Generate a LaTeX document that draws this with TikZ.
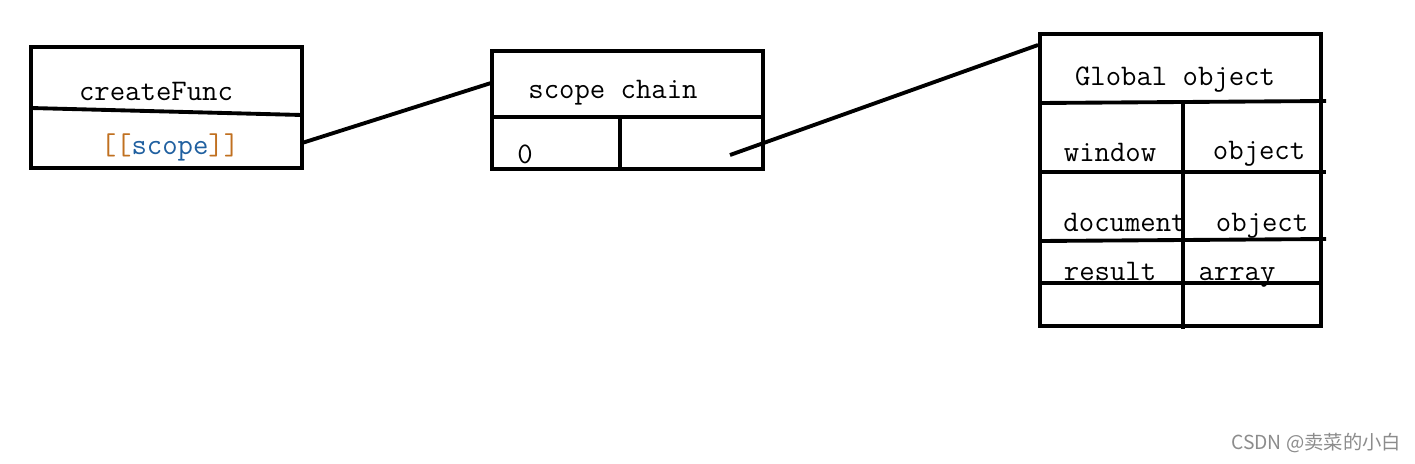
\documentclass[tikz,border=0pt]{standalone}
\usepackage{fontspec}
\newfontfamily\cjk{Noto Sans CJK SC}
\begin{document}
\begin{tikzpicture}[x=0.02cm,y=-0.02cm,line width=2.2pt,
  txt/.style={font=\ttfamily\fontsize{17}{19}\selectfont,inner sep=0pt,anchor=base}]
\useasboundingbox (0,0) rectangle (1415,463);
% box 1
\draw (31,47) rectangle (302,168);
\draw (31,108) -- (302,115);
\node[txt] (cf) at (156,100) {createFunc};
\node[txt] (sc) at (170,154) {\textcolor[HTML]{C07020}{[[}\textcolor[HTML]{2060A0}{scope}\textcolor[HTML]{C07020}{]]}};
\coordinate (a1) at (302,143);
% box 2
\draw (492,51) rectangle (763,169);
\draw (492,117) -- (763,117);
\draw (620,117) -- (620,169);
\node[txt] (ch) at (613,98) {scope chain};
\node[txt] (z) at (525,163) {0};
\coordinate (a2) at (491,83);
\coordinate (b1) at (730,155);
% box 3
\draw (1040,34) rectangle (1321,326);
\draw (1040,103) -- (1326,101);
\draw (1040,172) -- (1326,172);
\draw (1040,241) -- (1326,239);
\draw (1040,283) -- (1321,283);
\draw (1183,103) -- (1183,329);
\coordinate (b2) at (1038,45);
\node[txt] (g) at (1175,85) {Global object};
\node[txt] (w) at (1110,161) {window};
\node[txt] (o1) at (1259,159) {object};
\node[txt] (d) at (1125,231) {document};
\node[txt] (o2) at (1262,231) {object};
\node[txt] (r) at (1110,280) {result};
\node[txt] (ar) at (1237,280) {array};
\draw (a1) -- (a2);
\draw (b1) -- (b2);
\node[font=\cjk\fontsize{11}{13}\selectfont,text=black!45,anchor=east,inner sep=0pt] (wm) at (1403,443) {CSDN @卖菜的小白};
\end{tikzpicture}
\end{document}
